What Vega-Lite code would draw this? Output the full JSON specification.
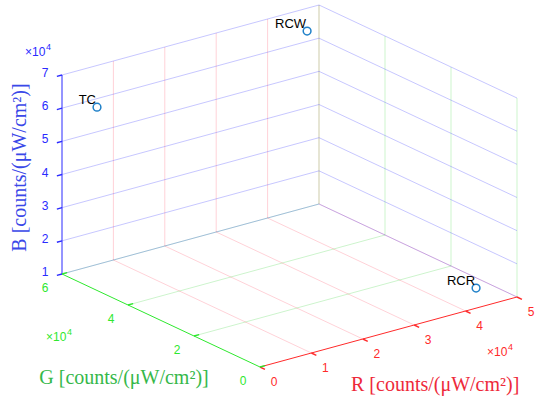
{
  "$schema": "https://vega.github.io/schema/vega-lite/v6.json",
  "width": 537,
  "height": 399,
  "autosize": {"type": "none"},
  "padding": 0,
  "background": "white",
  "config": {"view": {"stroke": null}},
  "datasets": {
    "lines": [
      {"part": "Rgrid", "r1": 10000, "g1": 60000, "b1": 10000, "r2": 10000, "g2": 60000, "b2": 70000},
      {"part": "Rgrid", "r1": 20000, "g1": 60000, "b1": 10000, "r2": 20000, "g2": 60000, "b2": 70000},
      {"part": "Rgrid", "r1": 30000, "g1": 60000, "b1": 10000, "r2": 30000, "g2": 60000, "b2": 70000},
      {"part": "Rgrid", "r1": 40000, "g1": 60000, "b1": 10000, "r2": 40000, "g2": 60000, "b2": 70000},
      {"part": "Rgrid", "r1": 50000, "g1": 60000, "b1": 10000, "r2": 50000, "g2": 60000, "b2": 70000},
      {"part": "Rgrid", "r1": 10000, "g1": 0, "b1": 10000, "r2": 10000, "g2": 60000, "b2": 10000},
      {"part": "Rgrid", "r1": 20000, "g1": 0, "b1": 10000, "r2": 20000, "g2": 60000, "b2": 10000},
      {"part": "Rgrid", "r1": 30000, "g1": 0, "b1": 10000, "r2": 30000, "g2": 60000, "b2": 10000},
      {"part": "Rgrid", "r1": 40000, "g1": 0, "b1": 10000, "r2": 40000, "g2": 60000, "b2": 10000},
      {"part": "Rgrid", "r1": 50000, "g1": 0, "b1": 10000, "r2": 50000, "g2": 60000, "b2": 10000},
      {"part": "Ggrid", "r1": 50000, "g1": 0, "b1": 10000, "r2": 50000, "g2": 0, "b2": 70000},
      {"part": "Ggrid", "r1": 50000, "g1": 20000, "b1": 10000, "r2": 50000, "g2": 20000, "b2": 70000},
      {"part": "Ggrid", "r1": 50000, "g1": 40000, "b1": 10000, "r2": 50000, "g2": 40000, "b2": 70000},
      {"part": "Ggrid", "r1": 50000, "g1": 60000, "b1": 10000, "r2": 50000, "g2": 60000, "b2": 70000},
      {"part": "Ggrid", "r1": 0, "g1": 20000, "b1": 10000, "r2": 50000, "g2": 20000, "b2": 10000},
      {"part": "Ggrid", "r1": 0, "g1": 40000, "b1": 10000, "r2": 50000, "g2": 40000, "b2": 10000},
      {"part": "Ggrid", "r1": 0, "g1": 60000, "b1": 10000, "r2": 50000, "g2": 60000, "b2": 10000},
      {"part": "Bgrid", "r1": 0, "g1": 60000, "b1": 10000, "r2": 50000, "g2": 60000, "b2": 10000},
      {"part": "Bgrid", "r1": 0, "g1": 60000, "b1": 20000, "r2": 50000, "g2": 60000, "b2": 20000},
      {"part": "Bgrid", "r1": 0, "g1": 60000, "b1": 30000, "r2": 50000, "g2": 60000, "b2": 30000},
      {"part": "Bgrid", "r1": 0, "g1": 60000, "b1": 40000, "r2": 50000, "g2": 60000, "b2": 40000},
      {"part": "Bgrid", "r1": 0, "g1": 60000, "b1": 50000, "r2": 50000, "g2": 60000, "b2": 50000},
      {"part": "Bgrid", "r1": 0, "g1": 60000, "b1": 60000, "r2": 50000, "g2": 60000, "b2": 60000},
      {"part": "Bgrid", "r1": 0, "g1": 60000, "b1": 70000, "r2": 50000, "g2": 60000, "b2": 70000},
      {"part": "Bgrid", "r1": 50000, "g1": 0, "b1": 10000, "r2": 50000, "g2": 60000, "b2": 10000},
      {"part": "Bgrid", "r1": 50000, "g1": 0, "b1": 20000, "r2": 50000, "g2": 60000, "b2": 20000},
      {"part": "Bgrid", "r1": 50000, "g1": 0, "b1": 30000, "r2": 50000, "g2": 60000, "b2": 30000},
      {"part": "Bgrid", "r1": 50000, "g1": 0, "b1": 40000, "r2": 50000, "g2": 60000, "b2": 40000},
      {"part": "Bgrid", "r1": 50000, "g1": 0, "b1": 50000, "r2": 50000, "g2": 60000, "b2": 50000},
      {"part": "Bgrid", "r1": 50000, "g1": 0, "b1": 60000, "r2": 50000, "g2": 60000, "b2": 60000},
      {"part": "Bgrid", "r1": 50000, "g1": 0, "b1": 70000, "r2": 50000, "g2": 60000, "b2": 70000},
      {"part": "Baxis", "r1": 0, "g1": 60000, "b1": 10000, "r2": 0, "g2": 60000, "b2": 70000},
      {"part": "Gaxis", "r1": 0, "g1": 0, "b1": 10000, "r2": 0, "g2": 60000, "b2": 10000},
      {"part": "Raxis", "r1": 0, "g1": 0, "b1": 10000, "r2": 50000, "g2": 0, "b2": 10000}
    ],
    "ticks": [
      {"axis": "R", "v": 0, "label": "0"},
      {"axis": "R", "v": 10000, "label": "1"},
      {"axis": "R", "v": 20000, "label": "2"},
      {"axis": "R", "v": 30000, "label": "3"},
      {"axis": "R", "v": 40000, "label": "4"},
      {"axis": "R", "v": 50000, "label": "5"},
      {"axis": "G", "v": 0, "label": "0"},
      {"axis": "G", "v": 20000, "label": "2"},
      {"axis": "G", "v": 40000, "label": "4"},
      {"axis": "G", "v": 60000, "label": "6"},
      {"axis": "B", "v": 10000, "label": "1"},
      {"axis": "B", "v": 20000, "label": "2"},
      {"axis": "B", "v": 30000, "label": "3"},
      {"axis": "B", "v": 40000, "label": "4"},
      {"axis": "B", "v": 50000, "label": "5"},
      {"axis": "B", "v": 60000, "label": "6"},
      {"axis": "B", "v": 70000, "label": "7"}
    ],
    "points": [
      {"name": "TC", "R": 3600, "G": 55000, "B": 61100},
      {"name": "RCW", "R": 46400, "G": 58000, "B": 64600},
      {"name": "RCR", "R": 47300, "G": 8200, "B": 10000}
    ]
  },
  "encoding": {
    "x": {"field": "x", "type": "quantitative", "scale": {"domain": [-260, 277], "nice": false, "zero": false}, "axis": null},
    "y": {"field": "y", "type": "quantitative", "scale": {"domain": [-32, 367], "nice": false, "zero": false}, "axis": null}
  },
  "layer": [
    {
      "data": {"name": "lines"},
      "transform": [
        {"calculate": "257*datum.r1/50000-198*datum.g1/60000", "as": "x"},
        {"calculate": "70*datum.r1/50000+93*datum.g1/60000+199*(datum.b1-10000)/60000", "as": "y"},
        {"calculate": "257*datum.r2/50000-198*datum.g2/60000", "as": "xe"},
        {"calculate": "70*datum.r2/50000+93*datum.g2/60000+199*(datum.b2-10000)/60000", "as": "ye"}
      ],
      "mark": {"type": "rule", "strokeWidth": 1},
      "encoding": {
        "x2": {"field": "xe"},
        "y2": {"field": "ye"},
        "strokeWidth": {"condition": {"test": "indexof(datum.part,'axis')>=0", "value": 1.4}, "value": 1},
        "color": {"field": "part", "type": "nominal", "legend": null,
          "scale": {"domain": ["Rgrid", "Ggrid", "Bgrid", "Raxis", "Gaxis", "Baxis"],
                    "range": ["rgba(255,0,40,0.18)", "rgba(0,200,0,0.2)", "rgba(20,20,255,0.24)", "#ff2a2a", "#2ee82e", "#2a2aff"]}}
      }
    },
    {
      "data": {"name": "ticks"},
      "transform": [
        {"calculate": "datum.axis=='R'?datum.v:0", "as": "r1"},
        {"calculate": "datum.axis=='R'?0:(datum.axis=='G'?datum.v:60000)", "as": "g1"},
        {"calculate": "datum.axis=='B'?datum.v:10000", "as": "b1"},
        {"calculate": "datum.axis=='R'?datum.v:(datum.axis=='G'?1000:-1000)", "as": "r2"},
        {"calculate": "datum.axis=='R'?-1500:datum.g1", "as": "g2"},
        {"calculate": "257*datum.r1/50000-198*datum.g1/60000", "as": "x"},
        {"calculate": "70*datum.r1/50000+93*datum.g1/60000+199*(datum.b1-10000)/60000", "as": "y"},
        {"calculate": "257*datum.r2/50000-198*datum.g2/60000", "as": "xe"},
        {"calculate": "70*datum.r2/50000+93*datum.g2/60000+199*(datum.b1-10000)/60000", "as": "ye"},
        {"calculate": "datum.axis+'axis'", "as": "part"}
      ],
      "layer": [
        {
          "mark": {"type": "rule", "strokeWidth": 1.4},
          "encoding": {
            "x2": {"field": "xe"},
            "y2": {"field": "ye"},
            "color": {"field": "part", "type": "nominal", "legend": null,
              "scale": {"domain": ["Rgrid", "Ggrid", "Bgrid", "Raxis", "Gaxis", "Baxis"],
                        "range": ["rgba(255,0,40,0.18)", "rgba(0,200,0,0.2)", "rgba(20,20,255,0.24)", "#ff2a2a", "#2ee82e", "#2a2aff"]}}
          }
        },
        {
          "transform": [{"filter": "datum.axis=='R'"}],
          "mark": {"type": "text", "dx": 14, "dy": 15, "fontSize": 12, "font": "Liberation Sans", "align": "center", "baseline": "middle", "color": "#ff2a2a"},
          "encoding": {"text": {"field": "label"}}
        },
        {
          "transform": [{"filter": "datum.axis=='G'"}],
          "mark": {"type": "text", "dx": -17, "dy": 14, "fontSize": 12, "font": "Liberation Sans", "align": "center", "baseline": "middle", "color": "#2ee82e"},
          "encoding": {"text": {"field": "label"}}
        },
        {
          "transform": [{"filter": "datum.axis=='B'"}],
          "mark": {"type": "text", "dx": -17, "dy": -2, "fontSize": 12, "font": "Liberation Sans", "align": "center", "baseline": "middle", "color": "#2a2aff"},
          "encoding": {"text": {"field": "label"}}
        },
        {
          "transform": [{"filter": "datum.axis=='R' && datum.v==50000"}],
          "layer": [
            {"mark": {"type": "text", "text": "×10", "dx": -30, "dy": 55, "fontSize": 12, "font": "Liberation Sans", "align": "left", "baseline": "middle", "color": "#ff2a2a"}},
            {"mark": {"type": "text", "text": "4", "dx": -9, "dy": 50, "fontSize": 9, "font": "Liberation Sans", "align": "left", "baseline": "middle", "color": "#ff2a2a"}}
          ]
        },
        {
          "transform": [{"filter": "datum.axis=='G' && datum.v==60000"}],
          "layer": [
            {"mark": {"type": "text", "text": "×10", "dx": -16, "dy": 63, "fontSize": 12, "font": "Liberation Sans", "align": "left", "baseline": "middle", "color": "#2ee82e"}},
            {"mark": {"type": "text", "text": "4", "dx": 5, "dy": 58, "fontSize": 9, "font": "Liberation Sans", "align": "left", "baseline": "middle", "color": "#2ee82e"}}
          ]
        },
        {
          "transform": [{"filter": "datum.axis=='B' && datum.v==70000"}],
          "layer": [
            {"mark": {"type": "text", "text": "×10", "dx": -37, "dy": -23, "fontSize": 12, "font": "Liberation Sans", "align": "left", "baseline": "middle", "color": "#2a2aff"}},
            {"mark": {"type": "text", "text": "4", "dx": -16, "dy": -28, "fontSize": 9, "font": "Liberation Sans", "align": "left", "baseline": "middle", "color": "#2a2aff"}}
          ]
        },
        {
          "transform": [{"filter": "datum.axis=='R' && datum.v==30000"}],
          "mark": {"type": "text", "text": "R [counts/(μW/cm²)]", "dx": 21, "dy": 60, "fontSize": 20, "font": "Liberation Serif", "align": "center", "baseline": "middle", "color": "#ee2a3a"}
        },
        {
          "transform": [{"filter": "datum.axis=='G' && datum.v==40000"}],
          "mark": {"type": "text", "text": "G [counts/(μW/cm²)]", "dx": -4, "dy": 73, "fontSize": 20, "font": "Liberation Serif", "align": "center", "baseline": "middle", "color": "#35b84a"}
        },
        {
          "transform": [{"filter": "datum.axis=='B' && datum.v==40000"}],
          "mark": {"type": "text", "text": "B [counts/(μW/cm²)]", "angle": 270, "dx": 7, "dy": -42, "fontSize": 20, "font": "Liberation Serif", "align": "center", "baseline": "middle", "color": "#3a48e8"}
        }
      ]
    },
    {
      "data": {"name": "points"},
      "transform": [
        {"calculate": "257*datum.R/50000-198*datum.G/60000", "as": "x"},
        {"calculate": "70*datum.R/50000+93*datum.G/60000+199*(datum.B-10000)/60000", "as": "y"}
      ],
      "layer": [
        {"mark": {"type": "point", "shape": "circle", "filled": false, "size": 60, "strokeWidth": 1.5, "color": "#1f80c8", "opacity": 1}},
        {"mark": {"type": "text", "align": "right", "baseline": "alphabetic", "dx": -1, "dy": -3, "fontSize": 13, "font": "Liberation Sans", "color": "black"},
         "encoding": {"text": {"field": "name"}}}
      ]
    }
  ]
}
